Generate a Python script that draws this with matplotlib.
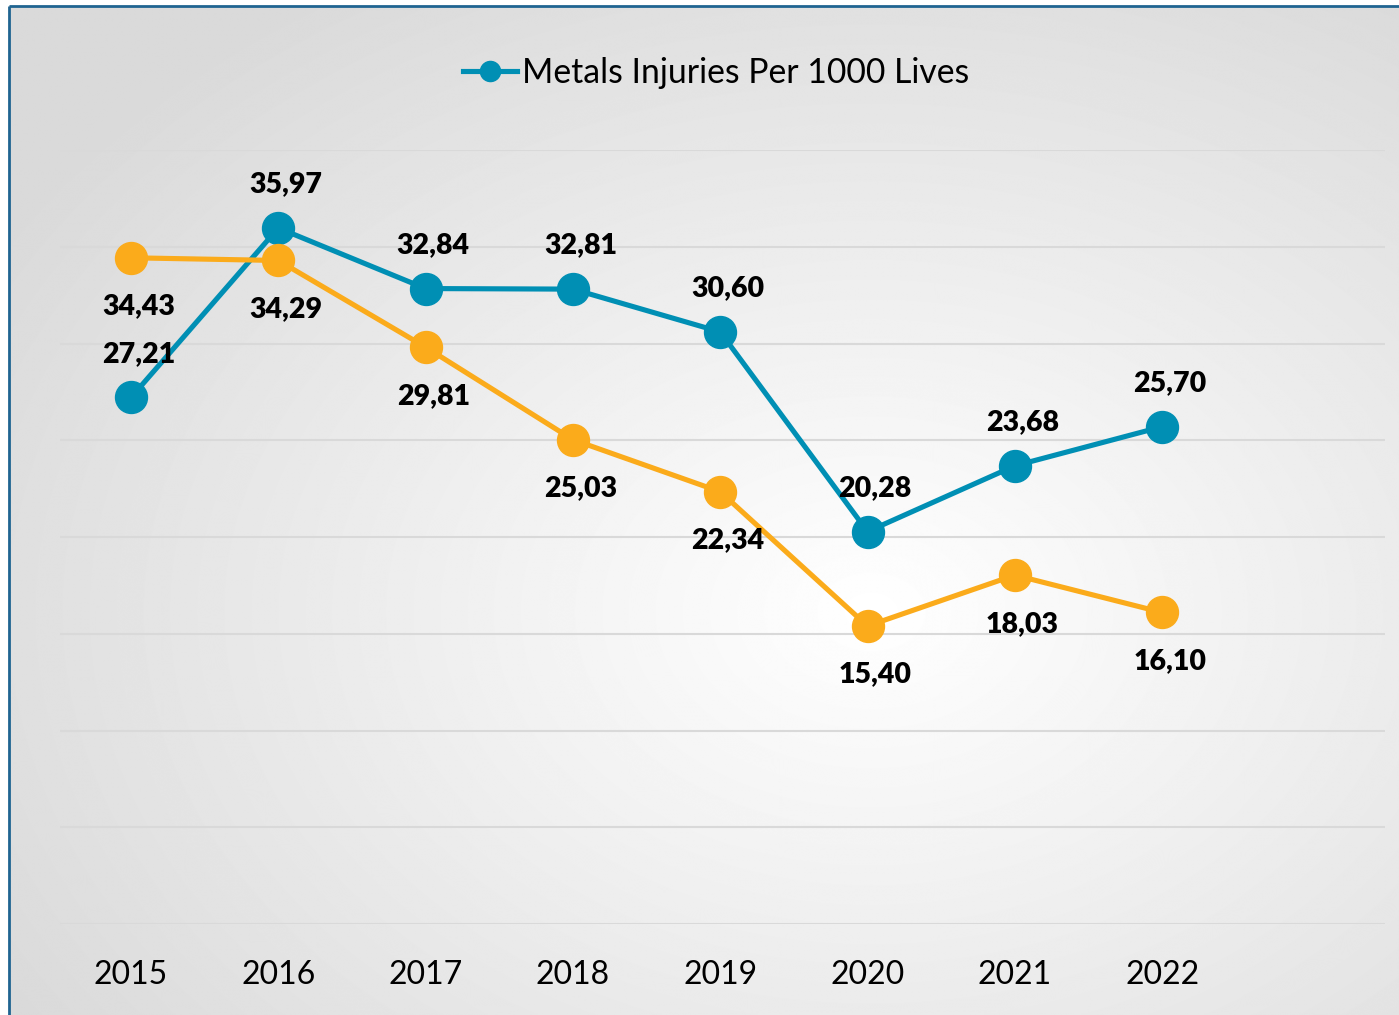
import matplotlib
matplotlib.use('Agg')
import matplotlib.pyplot as plt
import numpy as np
from matplotlib.lines import Line2D

years = ['2015', '2016', '2017', '2018', '2019', '2020', '2021', '2022']
metals = [27.21, 35.97, 32.84, 32.81, 30.60, 20.28, 23.68, 25.70]
other = [34.43, 34.29, 29.81, 25.03, 22.34, 15.40, 18.03, 16.10]
series_label = 'Metals Injuries Per 1000 Lives'

BLUE = '#008FB4'
ORANGE = '#FBAB1B'
plt.rcParams['font.family'] = ['Lato', 'DejaVu Sans']

W, H = 1399, 1015
fig = plt.figure(figsize=(W / 100, H / 100), dpi=100)
fig.patch.set_facecolor('white')

# background with radial gradient and border
bg = fig.add_axes([0, 0, 1, 1], zorder=-10)
bg.set_xlim(0, W)
bg.set_ylim(H, 0)
bg.axis('off')
yy, xx = np.mgrid[0:H, 0:W]
cx, cy = 0.62 * W, 0.60 * H
r = np.hypot((xx - cx) / W, (yy - cy) / H)
t = np.clip(r / 0.72, 0, 1)
val = 1 - (1 - 0.855) * t
bg.imshow(val, cmap='gray', vmin=0, vmax=1, extent=(9, W, H, 6),
          origin='upper', aspect='auto', interpolation='bilinear')
bg.plot([9, 9], [H, 6], color='#1F6491', lw=2, solid_capstyle='butt')
bg.plot([9, W], [6, 6], color='#1F6491', lw=2, solid_capstyle='butt')

# main axes
ax = fig.add_axes([60 / W, 1 - 924 / H, (1385 - 60) / W, (924 - 150) / H])
ax.set_facecolor('none')
ax.set_xlim(-0.482, 8.513)
ax.set_ylim(0, 40)
ax.set_yticks(np.arange(0, 41, 5))
ax.yaxis.grid(True, color='#d9d9d9', lw=1.5)
ax.set_axisbelow(True)
ax.tick_params(axis='y', left=False, labelleft=False)
for s in ax.spines.values():
    s.set_visible(False)
x = np.arange(len(years))
ax.set_xticks(x)
ax.set_xticklabels(years, fontsize=23, color='black')
ax.tick_params(axis='x', length=0, pad=26)

ax.plot(x, metals, color=BLUE, lw=3.7, marker='o', ms=23, zorder=3)
ax.plot(x, other, color=ORANGE, lw=3.7, marker='o', ms=23, zorder=4)

for xi, v in zip(x, metals):
    ax.annotate(f'{v:.2f}'.replace('.', ','), (xi, v), xytext=(5.5, 31.5),
                textcoords='offset points', ha='center', va='center',
                fontsize=20.5, fontweight='heavy', color='black', zorder=5)
for xi, v in zip(x, other):
    ax.annotate(f'{v:.2f}'.replace('.', ','), (xi, v), xytext=(5.5, -35),
                textcoords='offset points', ha='center', va='center',
                fontsize=20.5, fontweight='heavy', color='black', zorder=5)

handle = Line2D([], [], color=BLUE, lw=3.7, marker='o', ms=23)
fig.legend(handles=[handle], labels=[series_label], loc='center',
           bbox_to_anchor=(716 / W, 1 - 73 / H), frameon=False,
           fontsize=24.3, handlelength=1.6, handletextpad=0.15, markerscale=0.63)

fig.savefig('out.png', dpi=100)
